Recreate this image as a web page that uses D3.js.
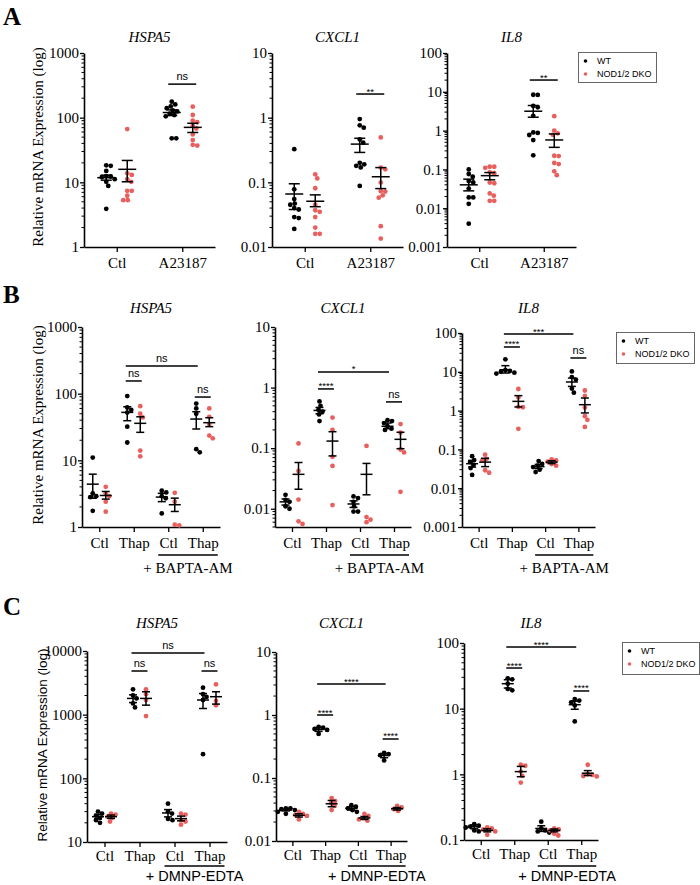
<!DOCTYPE html>
<html><head><meta charset="utf-8">
<script src="https://cdn.jsdelivr.net/npm/d3@7/dist/d3.min.js"></script>
<style>body{margin:0;background:#fff}</style></head>
<body>
<svg id="c" width="700" height="885"></svg>
<script>
// ---------- DATA ----------
const genes = ["HSPA5", "CXCL1", "IL8"];
const seriesNames = ["WT", "NOD1/2 DKO"];
const catsA = ["Ctl", "A23187"];
const catsB = ["Ctl", "Thap", "Ctl", "Thap"];
const catsC = ["Ctl", "Thap", "Ctl", "Thap"];
const treatB = "+ BAPTA-AM";
const treatC = "+ DMNP-EDTA";

const yTicksHspaA = [1, 10, 100, 1000];
const yTicksCxclA = [0.01, 0.1, 1, 10];
const yTicksIl8A = [0.001, 0.01, 0.1, 1, 10, 100];
const yTicksHspaB = [1, 10, 100, 1000];
const yTicksCxclB = [0.01, 0.1, 1, 10];
const yTicksIl8B = [0.001, 0.01, 0.1, 1, 10, 100];
const yTicksHspaC = [10, 100, 1000, 10000];
const yTicksCxclC = [0.01, 0.1, 1, 10];
const yTicksIl8C = [0.1, 1, 10, 100];

// individual points, per category
const aHspaWt = [[18.3, 18.0, 15.0, 12.5, 12.0, 12.3, 11.2, 10.2, 8.8, 3.9], [177, 160, 150, 140, 130, 125, 115, 110, 105, 48, 48]];
const aHspaKo = [[66.7, 13.8, 13.0, 11.2, 10.2, 7.4, 7.4, 6.2, 5.3, 5.3], [148, 110, 90, 85, 75, 68, 55, 45, 38, 37]];
const aCxclWt = [[0.326, 0.078, 0.055, 0.047, 0.045, 0.040, 0.038, 0.029, 0.028, 0.019], [0.95, 0.76, 0.70, 0.46, 0.41, 0.20, 0.19, 0.18, 0.17, 0.088]];
const aCxclKo = [[0.133, 0.115, 0.081, 0.045, 0.037, 0.035, 0.029, 0.020, 0.016, 0.016], [0.494, 0.169, 0.159, 0.099, 0.073, 0.072, 0.063, 0.058, 0.021, 0.0135]];
const aIl8Wt = [[0.10, 0.076, 0.065, 0.050, 0.046, 0.032, 0.019, 0.019, 0.013, 0.004], [8.4, 8.3, 4.3, 4.0, 2.4, 0.9, 0.87, 0.77, 0.57, 0.23]];
const aIl8Ko = [[0.117, 0.117, 0.11, 0.084, 0.080, 0.046, 0.044, 0.024, 0.021, 0.0155, 0.0155], [2.35, 1.0, 0.85, 0.78, 0.225, 0.22, 0.146, 0.137, 0.089, 0.071]];

const bHspaWt = [[11.0, 3.2, 2.9, 2.8, 1.75], [92, 62, 57, 52, 32, 18.5], [3.5, 3.3, 2.9, 2.7, 1.6], [71, 60, 50, 14.7, 13.2]];
const bHspaKo = [[4.0, 3.2, 2.9, 2.4, 1.7], [65, 50, 44, 14, 11.5], [3.25, 2.4, 1.08, 1.06], [60, 45, 35, 23.5, 21.4]];
const bCxclWt = [[0.017, 0.014, 0.013, 0.011, 0.010], [0.59, 0.50, 0.43, 0.40, 0.36, 0.28], [0.016, 0.015, 0.013, 0.011, 0.009, 0.009], [0.29, 0.28, 0.26, 0.23, 0.21, 0.20]];
const bCxclKo = [[0.12, 0.042, 0.0142, 0.0062, 0.0056], [0.32, 0.20, 0.072, 0.051, 0.0115], [0.109, 0.0073, 0.0066, 0.006], [0.25, 0.18, 0.095, 0.085, 0.019]];
const bIl8Wt = [[0.067, 0.053, 0.047, 0.040, 0.033, 0.022], [21, 11, 10.5, 10, 9.5, 9], [0.050, 0.042, 0.038, 0.035, 0.030, 0.026], [10.2, 7.3, 6.3, 3.7, 2.9]];
const bIl8Ko = [[0.073, 0.057, 0.052, 0.029, 0.025], [3.6, 2.2, 1.25, 1.22, 0.34], [0.055, 0.052, 0.048, 0.042, 0.038], [3.3, 2.4, 1.2, 0.72, 0.58, 0.38]];

const cHspaWt = [[30, 28, 26, 24, 22, 20], [2500, 2000, 1800, 1500, 1300], [40, 30, 28, 23, 22], [2650, 2100, 1900, 1700, 240]];
const cHspaKo = [[28, 27, 25, 24, 21], [2500, 2100, 1700, 950], [28, 27, 22, 21, 18.7], [3000, 1650, 1400]];
const cCxclWt = [[0.033, 0.033, 0.032, 0.031, 0.029, 0.027], [0.65, 0.63, 0.60, 0.58, 0.50], [0.037, 0.035, 0.033, 0.031, 0.029], [0.25, 0.24, 0.23, 0.19]];
const cCxclKo = [[0.029, 0.027, 0.026, 0.025, 0.022], [0.048, 0.043, 0.040, 0.036, 0.031], [0.027, 0.025, 0.023, 0.022, 0.021], [0.036, 0.034, 0.032, 0.030]];
const cIl8Wt = [[0.175, 0.165, 0.16, 0.155, 0.14, 0.135], [29, 28, 24, 20, 19], [0.19, 0.15, 0.14, 0.135, 0.13], [14, 13.3, 12.5, 11.2, 6.4]];
const cIl8Ko = [[0.155, 0.15, 0.145, 0.135, 0.12], [1.4, 1.35, 1.1, 0.95, 0.75], [0.15, 0.145, 0.14, 0.125, 0.117], [1.4, 1.0, 0.98, 0.94, 0.93]];

// mean, lower (mean - SEM), upper (mean + SEM), per category
const aHspaWtStats = [[11.8, 10.8, 12.9], [120, 108, 132]];
const aHspaKoStats = [[15.9, 10.2, 21.8], [70.8, 59, 82]];
const aCxclWtStats = [[0.066, 0.038, 0.095], [0.39, 0.29, 0.48]];
const aCxclKoStats = [[0.051, 0.042, 0.064], [0.122, 0.080, 0.169]];
const aIl8WtStats = [[0.040, 0.028, 0.056], [3.16, 2.21, 4.43]];
const aIl8KoStats = [[0.069, 0.054, 0.083], [0.574, 0.37, 0.82]];

const bHspaWtStats = [[4.39, 2.7, 6.2], [52.4, 39.3, 63.6], [2.81, 2.4, 3.2], [41.6, 29.5, 53.6]];
const bHspaKoStats = [[2.97, 2.62, 3.41], [35.9, 26.3, 45], [2.16, 1.71, 2.71], [36.7, 32, 43.6]];
const bCxclWtStats = [[0.013, 0.0115, 0.0145], [0.42, 0.37, 0.47], [0.012, 0.0105, 0.0135], [0.23, 0.21, 0.26]];
const bCxclKoStats = [[0.037, 0.021, 0.058], [0.131, 0.0745, 0.187], [0.037, 0.017, 0.056], [0.14, 0.098, 0.183]];
const bIl8WtStats = [[0.0428, 0.035, 0.052], [11.3, 9.3, 14.4], [0.036, 0.032, 0.041], [5.46, 4.2, 6.9]];
const bIl8KoStats = [[0.047, 0.036, 0.059], [1.73, 1.24, 2.43], [0.047, 0.043, 0.051], [1.42, 0.87, 2.11]];

const cHspaWtStats = [[25, 23, 27], [1800, 1550, 2050], [28.6, 24.8, 32.3], [1700, 1250, 2150]];
const cHspaKoStats = [[25, 23.5, 26.5], [1800, 1410, 2290], [23.3, 21.5, 25.5], [1915, 1466, 2290]];
const cCxclWtStats = [[0.031, 0.030, 0.032], [0.59, 0.55, 0.63], [0.033, 0.031, 0.035], [0.228, 0.21, 0.245]];
const cCxclKoStats = [[0.0255, 0.024, 0.027], [0.039, 0.035, 0.044], [0.0232, 0.022, 0.0245], [0.0326, 0.031, 0.034]];
const cIl8WtStats = [[0.159, 0.148, 0.17], [24, 20.6, 27.6], [0.15, 0.135, 0.165], [11.5, 9.8, 13]];
const cIl8KoStats = [[0.14, 0.133, 0.148], [1.1, 0.92, 1.32], [0.14, 0.133, 0.147], [1.04, 0.96, 1.14]];

// significance brackets: [cat from, series from, cat to, series to, y value, label]
const aHspaSig = [[1, 0, 1, 1, 330, "ns"]];
const aCxclSig = [[1, 0, 1, 1, 2.32, "**"]];
const aIl8Sig = [[1, 0, 1, 1, 20.1, "**"]];
const bHspaSig = [[1, 0, 1, 1, 155, "ns"], [3, 0, 3, 1, 89, "ns"], [1, 0, 3, 0, 260, "ns"]];
const bCxclSig = [[1, 0, 1, 1, 0.95, "****"], [3, 0, 3, 1, 0.58, "ns"], [1, 0, 3, 0, 1.81, "*"]];
const bIl8Sig = [[1, 0, 1, 1, 43.6, "****"], [3, 0, 3, 1, 22.7, "ns"], [1, 0, 3, 0, 94, "***"]];
const cHspaSig = [[1, 0, 1, 1, 4850, "ns"], [3, 0, 3, 1, 4850, "ns"], [1, 0, 3, 0, 9300, "ns"]];
const cCxclSig = [[1, 0, 1, 1, 1.0, "****"], [3, 0, 3, 1, 0.416, "****"], [1, 0, 3, 0, 3.1, "****"]];
const cIl8Sig = [[1, 0, 1, 1, 41.6, "****"], [3, 0, 3, 1, 18.6, "****"], [1, 0, 3, 0, 86.9, "****"]];

const domainsA = [[1, 1000], [0.01, 10], [0.001, 100]];
const domainsB = [[1, 1000], [0.005, 10], [0.001, 100]];
const domainsC = [[10, 10000], [0.01, 10], [0.1, 100]];

// ---------- LAYOUT ----------
const SERIF = "'Liberation Serif','Times New Roman',Times,serif";
const SANS = "'Liberation Sans',Arial,Helvetica,sans-serif";
const COLORS = ["#000000", "#e8605e"];

const rows = [
  { letter: "A", letterY: 25, cats: catsA, off: 10.5, meanHalf: 9, capHalf: 5.5, ext: 3.5, titleY: 42, xPad: 5.5,
    ylabel: { x: 43, y: 147, font: SERIF, size: 15 }, treat: null,
    legend: { x: 578, y: 52, w: 78, h: 30 },
    panels: [
      { x0: 84, x1: 215, yt: 53, yb: 247, domain: domainsA[0], ticks: yTicksHspaA, wt: aHspaWt, ko: aHspaKo, wts: aHspaWtStats, kos: aHspaKoStats, sig: aHspaSig },
      { x0: 272, x1: 403, yt: 53, yb: 247, domain: domainsA[1], ticks: yTicksCxclA, wt: aCxclWt, ko: aCxclKo, wts: aCxclWtStats, kos: aCxclKoStats, sig: aCxclSig },
      { x0: 447, x1: 576, yt: 53, yb: 247, domain: domainsA[2], ticks: yTicksIl8A, wt: aIl8Wt, ko: aIl8Ko, wts: aIl8WtStats, kos: aIl8KoStats, sig: aIl8Sig }
    ] },
  { letter: "B", letterY: 303, cats: catsB, off: 6.5, meanHalf: 6, capHalf: 4, ext: 1.5, titleY: 313, xPad: 5.5,
    ylabel: { x: 43, y: 425, font: SERIF, size: 15 }, treat: { text: treatB, font: SERIF, size: 15, lineY: 555, textY: 573 },
    legend: { x: 616, y: 332, w: 78, h: 31 },
    panels: [
      { x0: 82, x1: 220, yt: 327, yb: 527, domain: domainsB[0], ticks: yTicksHspaB, wt: bHspaWt, ko: bHspaKo, wts: bHspaWtStats, kos: bHspaKoStats, sig: bHspaSig },
      { x0: 275, x1: 411, yt: 327, yb: 527, domain: domainsB[1], ticks: yTicksCxclB, wt: bCxclWt, ko: bCxclKo, wts: bCxclWtStats, kos: bCxclKoStats, sig: bCxclSig },
      { x0: 462, x1: 595, yt: 333, yb: 527, domain: domainsB[2], ticks: yTicksIl8B, wt: bIl8Wt, ko: bIl8Ko, wts: bIl8WtStats, kos: bIl8KoStats, sig: bIl8Sig }
    ] },
  { letter: "C", letterY: 615, cats: catsC, off: 6.5, meanHalf: 6, capHalf: 4, ext: 1.5, titleY: 628, xPad: 3.5,
    ylabel: { x: 47, y: 745, font: SANS, size: 13.5 }, treat: { text: treatC, font: SANS, size: 14.5, lineY: 866, textY: 881 },
    legend: { x: 622, y: 642, w: 77, h: 32 },
    panels: [
      { x0: 87, x1: 227, yt: 651, yb: 842, domain: domainsC[0], ticks: yTicksHspaC, wt: cHspaWt, ko: cHspaKo, wts: cHspaWtStats, kos: cHspaKoStats, sig: cHspaSig },
      { x0: 276, x1: 407, yt: 652, yb: 841, domain: domainsC[1], ticks: yTicksCxclC, wt: cCxclWt, ko: cCxclKo, wts: cCxclWtStats, kos: cCxclKoStats, sig: cCxclSig },
      { x0: 464, x1: 598, yt: 643, yb: 840, domain: domainsC[2], ticks: yTicksIl8C, wt: cIl8Wt, ko: cIl8Ko, wts: cIl8WtStats, kos: cIl8KoStats, sig: cIl8Sig }
    ] }
];

const svg = d3.select("#c");
const R = 2.4;

function swarm(vals, cx, y) {
  const placed = [];
  const sorted = vals.map(v => ({ v, y: y(v) })).sort((a, b) => a.y - b.y);
  const minD = 2 * R * 0.92;
  for (const d of sorted) {
    let px = cx;
    for (let k = 0; k < 60; k++) {
      const dx = (k % 2 ? 1 : -1) * Math.ceil(k / 2) * 0.5;
      const ok = placed.every(q => (q.x - (cx + dx)) ** 2 + (q.y - d.y) ** 2 >= minD * minD);
      if (ok) { px = cx + dx; break; }
    }
    d.x = px; placed.push(d);
  }
  return placed;
}

function minorTicks(domain) {
  const out = [];
  const lo = Math.floor(Math.log10(domain[0])), hi = Math.ceil(Math.log10(domain[1]));
  for (let e = lo; e < hi; e++) {
    for (let m = 2; m <= 9; m++) {
      const v = m * Math.pow(10, e);
      if (v >= domain[0] * 0.999 && v <= domain[1] * 1.001) out.push(v);
    }
  }
  return out;
}

function fmt(v) { return String(+v.toPrecision(6)); }

rows.forEach(row => {
  svg.append("text").attr("x", 3).attr("y", row.letterY).text(row.letter)
    .attr("font-family", SERIF).attr("font-weight", "bold").attr("font-size", 25);

  svg.append("text").attr("transform", `translate(${row.ylabel.x},${row.ylabel.y}) rotate(-90)`)
    .attr("text-anchor", "middle").attr("font-family", row.ylabel.font).attr("font-size", row.ylabel.size)
    .text("Relative mRNA Expression (log)");

  row.panels.forEach((p, gi) => {
    const n = row.cats.length;
    const x = d3.scalePoint().domain(d3.range(n)).range([p.x0, p.x1]).padding(0.5);
    const y = d3.scaleLog().domain(p.domain).range([p.yb, p.yt]);
    const g = svg.append("g");
    const gx = (ci, si) => x(ci) + (si === 0 ? -row.off : row.off);

    // title
    g.append("text").attr("x", (p.x0 + p.x1) / 2).attr("y", row.titleY).attr("text-anchor", "middle")
      .attr("font-family", SERIF).attr("font-style", "italic").attr("font-size", 15).text(genes[gi]);

    // y axis
    const ya = g.append("g").attr("transform", `translate(${p.x0},0)`)
      .call(d3.axisLeft(y).tickValues(p.ticks).tickFormat(fmt).tickSize(4).tickSizeOuter(0).tickPadding(1));
    ya.select(".domain").attr("stroke-width", 1.6).attr("stroke", "#000");
    ya.selectAll(".tick line").attr("stroke-width", 1.3);
    ya.selectAll(".tick text").attr("font-family", SERIF).attr("font-size", 15).attr("fill", "#000");
    g.append("g").selectAll("line").data(minorTicks(p.domain)).join("line")
      .attr("x1", p.x0 - 2.5).attr("x2", p.x0).attr("y1", d => y(d)).attr("y2", d => y(d))
      .attr("stroke", "#000").attr("stroke-width", 1);

    // x axis
    const xa = g.append("g").attr("transform", `translate(0,${p.yb})`)
      .call(d3.axisBottom(x).tickFormat(i => row.cats[i]).tickSize(5).tickSizeOuter(0).tickPadding(row.xPad));
    xa.select(".domain").attr("stroke-width", 1.6).attr("stroke", "#000");
    xa.selectAll(".tick line").attr("stroke-width", 1.3);
    xa.selectAll(".tick text").attr("font-family", SERIF).attr("font-size", 15).attr("fill", "#000");

    // points
    [p.wt, p.ko].forEach((series, si) => {
      series.forEach((vals, ci) => {
        const pts = swarm(vals, gx(ci, si), y);
        g.append("g").selectAll("circle").data(pts).join("circle")
          .attr("cx", d => d.x).attr("cy", d => d.y).attr("r", R).attr("fill", COLORS[si]);
      });
    });

    // mean +- SEM
    [p.wts, p.kos].forEach((stats, si) => {
      stats.forEach((s, ci) => {
        const cx = gx(ci, si);
        const eg = g.append("g").attr("stroke", "#000").attr("stroke-width", 1.5);
        eg.append("line").attr("x1", cx).attr("x2", cx).attr("y1", y(s[1])).attr("y2", y(s[2]));
        eg.append("line").attr("x1", cx - row.capHalf).attr("x2", cx + row.capHalf).attr("y1", y(s[1])).attr("y2", y(s[1]));
        eg.append("line").attr("x1", cx - row.capHalf).attr("x2", cx + row.capHalf).attr("y1", y(s[2])).attr("y2", y(s[2]));
        eg.append("line").attr("x1", cx - row.meanHalf).attr("x2", cx + row.meanHalf).attr("y1", y(s[0])).attr("y2", y(s[0]));
      });
    });

    // significance
    p.sig.forEach(b => {
      const xa1 = gx(b[0], b[1]) - row.ext, xa2 = gx(b[2], b[3]) + row.ext;
      const yy = y(b[4]);
      g.append("line").attr("x1", xa1).attr("x2", xa2).attr("y1", yy).attr("y2", yy)
        .attr("stroke", "#000").attr("stroke-width", 1.5);
      const isStar = b[5].indexOf("*") >= 0;
      g.append("text").attr("x", (xa1 + xa2) / 2).attr("y", isStar ? yy + 0.5 : yy - 4)
        .attr("text-anchor", "middle").attr("font-family", SANS).attr("font-size", isStar ? 9.5 : 11)
        .text(b[5]);
    });

    // treatment label
    if (row.treat) {
      const lx1 = x(2) - 10, lx2 = x(3) + 15;
      g.append("line").attr("x1", lx1).attr("x2", lx2).attr("y1", row.treat.lineY).attr("y2", row.treat.lineY)
        .attr("stroke", "#000").attr("stroke-width", 1.5);
      g.append("text").attr("x", (lx1 + lx2) / 2).attr("y", row.treat.textY).attr("text-anchor", "middle")
        .attr("font-family", row.treat.font).attr("font-size", row.treat.size).text(row.treat.text);
    }
  });

  // legend
  const L = row.legend;
  const lg = svg.append("g");
  lg.append("rect").attr("x", L.x + 0.5).attr("y", L.y + 0.5).attr("width", L.w).attr("height", L.h)
    .attr("fill", "#fff").attr("stroke", "#666").attr("stroke-width", 1);
  seriesNames.forEach((nm, i) => {
    const cy = L.y + 9 + i * 13;
    lg.append("circle").attr("cx", L.x + 7.5).attr("cy", cy).attr("r", 1.8).attr("fill", COLORS[i]);
    lg.append("text").attr("x", L.x + 19).attr("y", cy + 3.2).attr("font-family", SANS).attr("font-size", 9).text(nm);
  });
});
</script>
</body></html>
